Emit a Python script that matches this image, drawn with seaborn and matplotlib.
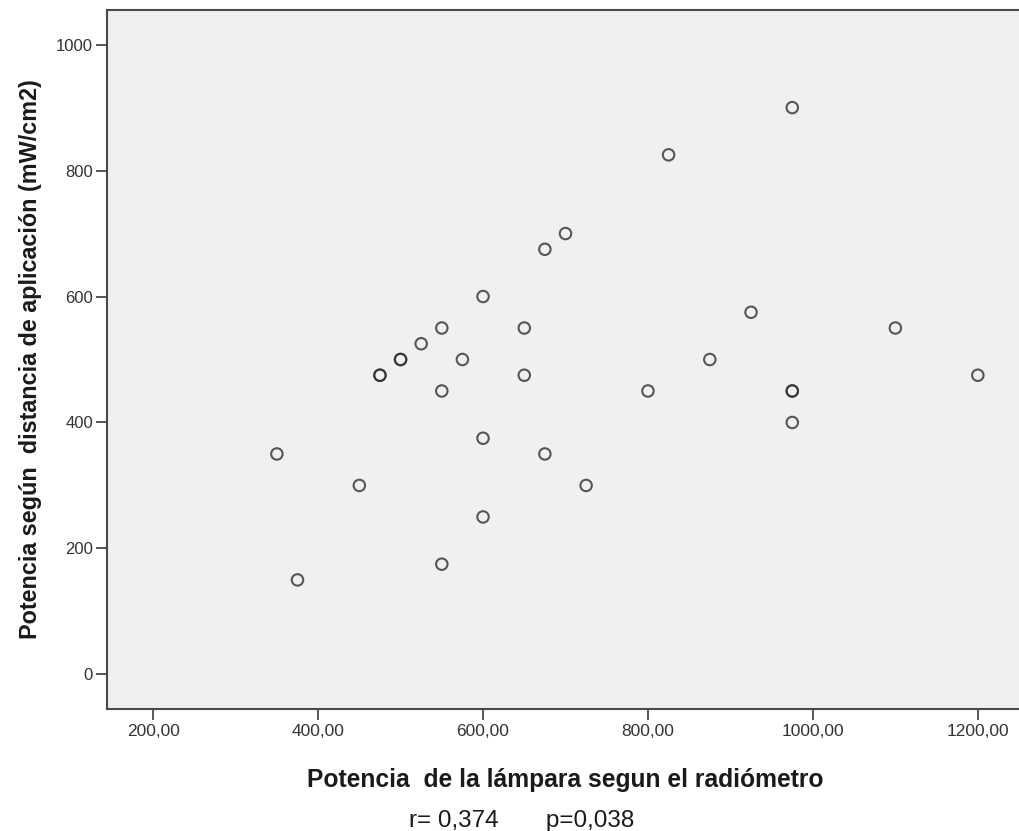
#scatter: potencia lampara vs potencia segun distancia
import matplotlib
matplotlib.use("Agg")
import matplotlib.pyplot as plt
import matplotlib.ticker as mticker
import seaborn as sns
import pandas as pd

# --- data (duplicates = darker rings) ---
potencia_radiometro = [350, 375, 450, 475, 475, 500, 500, 525, 550, 550,
                       550, 575, 600, 600, 600, 650, 650, 675, 675, 700,
                       725, 800, 825, 875, 925, 975, 975, 975, 975, 1100,
                       1200]
potencia_distancia = [350, 150, 300, 475, 475, 500, 500, 525, 550, 450,
                      175, 500, 600, 375, 250, 550, 475, 675, 350, 700,
                      300, 450, 825, 500, 575, 900, 450, 450, 400, 550,
                      475]
x_ticks = [200, 400, 600, 800, 1000, 1200]
y_ticks = [0, 200, 400, 600, 800, 1000]

x_label = "Potencia  de la lámpara segun el radiómetro"
y_label = "Potencia según  distancia de aplicación (mW/cm2)"
stats_text = "r= 0,374       p=0,038"

df = pd.DataFrame({"lampara": potencia_radiometro, "distancia": potencia_distancia})

# --- style ---
sns.set_theme(style="ticks", rc={
    "axes.facecolor": "#f0f0f0",
    "axes.edgecolor": "#4a4a4a",
    "axes.linewidth": 1.5,
    "xtick.color": "#4a4a4a",
    "ytick.color": "#4a4a4a",
    "xtick.labelcolor": "#333333",
    "ytick.labelcolor": "#333333",
    "xtick.major.size": 8,
    "ytick.major.size": 8,
    "xtick.major.width": 1.3,
    "ytick.major.width": 1.3,
    "xtick.major.pad": 3,
    "ytick.major.pad": 2,
})
plt.rcParams["font.family"] = ["Liberation Sans", "DejaVu Sans"]

fig = plt.figure(figsize=(10.19, 8.31), dpi=100)
ax = fig.add_axes([107 / 1019, 1 - 709 / 831, 917 / 1019, 699 / 831])

sns.scatterplot(data=df, x="lampara", y="distancia", ax=ax,
                marker="o", s=68, facecolors="none",
                edgecolor="#303030", linewidth=1.5, alpha=0.8)

ax.set_xlim(144, 1256)
ax.set_ylim(-55, 1055)
ax.set_xticks(x_ticks)
ax.set_yticks(y_ticks)
ax.xaxis.set_major_formatter(mticker.FuncFormatter(lambda v, p: f"{v:.2f}".replace(".", ",")))
ax.tick_params(axis="x", labelsize=12.5)
ax.tick_params(axis="y", labelsize=12)

ax.set_xlabel(x_label, fontsize=17.7, fontweight="bold", color="#1a1a1a", labelpad=21)
ax.set_ylabel(y_label, fontsize=16.8, fontweight="bold", color="#1a1a1a", labelpad=10)

fig.text(522 / 1019, 1 - 821 / 831, stats_text, ha="center", va="center",
         fontsize=17.5, color="#1a1a1a")

fig.savefig("out.png", dpi=100)
